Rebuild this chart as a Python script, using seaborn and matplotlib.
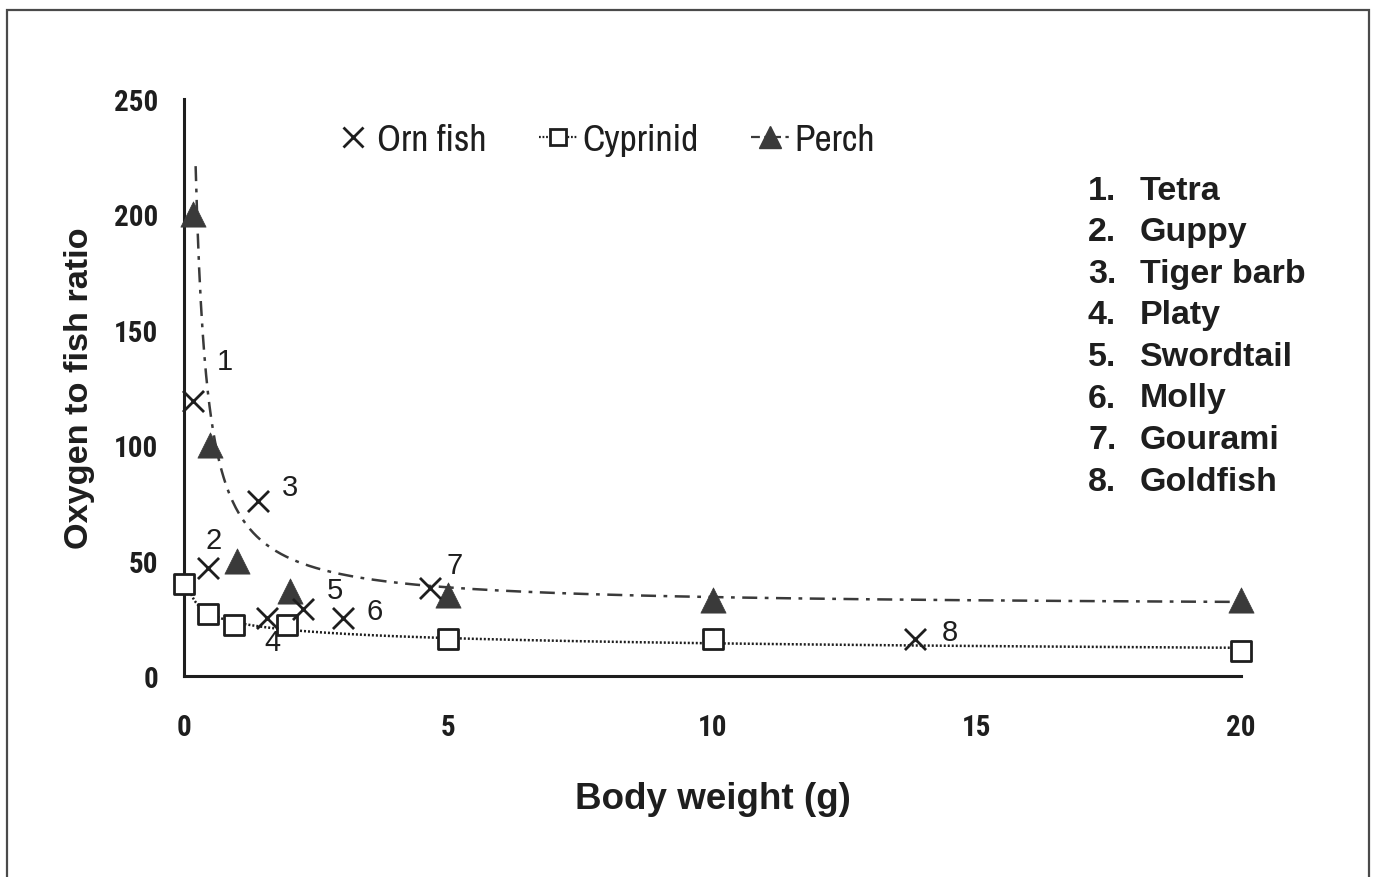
import numpy as np
import pandas as pd
import matplotlib
matplotlib.use("Agg")
import matplotlib.pyplot as plt
from matplotlib.lines import Line2D
from matplotlib.patches import Rectangle
from matplotlib import font_manager
import seaborn as sns

# ---------------- data ----------------
orn_x = [0.17, 0.45, 1.40, 1.57, 2.25, 3.0, 4.65, 13.83]
orn_y = [119, 47, 76, 25, 29, 25, 38, 16]
orn_labels = ["1", "2", "3", "4", "5", "6", "7", "8"]

cyp_x = [0.0, 0.45, 0.95, 1.95, 5.0, 10.0, 20.0]
cyp_y = [40, 27, 22, 22, 16, 16, 11]

perch_x = [0.17, 0.5, 1.0, 2.0, 5.0, 10.0, 20.0]
perch_y = [200, 100, 50, 37, 35, 33, 33]

# perch trend  y = a + b / x  (coefficients)
perch_trend_a = 30.0
perch_trend_b = 42.0

species = ["Tetra", "Guppy", "Tiger barb", "Platy", "Swordtail", "Molly",
           "Gourami", "Goldfish"]

x_ticks = [0, 5, 10, 15, 20]
y_ticks = [0, 50, 100, 150, 200, 250]

# ---------------- style ----------------
sns.set_theme(style="white")
plt.rcParams["font.family"] = ["Liberation Sans", "DejaVu Sans"]

_names = {f.name for f in font_manager.fontManager.ttflist}


def pick(cands, default="Liberation Sans"):
    for c in cands:
        if c in _names:
            return c
    return default


NARROW = pick(["Liberation Sans Narrow", "Arial Narrow", "Archivo Narrow",
               "PT Sans Narrow", "Roboto Condensed"])
TICKFONT = pick(["Liberation Sans Narrow", "Arial Narrow", "Roboto Condensed",
                 "Archivo Narrow"])

INK = "#1e1e1e"
TRI = "#3a3a3a"

fig = plt.figure(figsize=(13.75, 8.78), dpi=100)
L, R, T, B = 184, 1241, 100, 677
W, H = 1375, 878
ax = fig.add_axes([L / W, 1 - B / H, (R - L) / W, (B - T) / H])

# trend lines
xc = np.linspace(0.22, 20, 600)
perch_df = pd.DataFrame({"x": xc, "y": perch_trend_a + perch_trend_b / xc})
sns.lineplot(data=perch_df, x="x", y="y", ax=ax, color=TRI, lw=1.8,
             linestyle=(0, (6, 3, 1.5, 3)), zorder=2)

cx = np.array(cyp_x)
cy = np.array(cyp_y)
pos = cx > 0
slope, icpt = np.polyfit(np.log(cx[pos]), np.log(cy[pos]), 1)
xc2 = np.linspace(0.05, 20, 600)
cyp_df = pd.DataFrame({"x": xc2, "y": np.exp(icpt) * xc2 ** slope})
sns.lineplot(data=cyp_df, x="x", y="y", ax=ax, color=INK, lw=1.8,
             linestyle=(0, (0.8, 0.8)), zorder=2)

# markers
sns.scatterplot(x=cyp_x, y=cyp_y, ax=ax, marker="s", s=190, facecolor="white",
                edgecolor=INK, linewidth=2.0, zorder=4, clip_on=False)
sns.scatterplot(x=perch_x, y=perch_y, ax=ax, marker="^", s=330, color=TRI,
                edgecolor=TRI, linewidth=0.5, zorder=5, clip_on=False)
sns.scatterplot(x=orn_x, y=orn_y, ax=ax, marker="x", s=230, color=INK,
                linewidth=2.0, zorder=6, clip_on=False)

# point labels
offsets = [(23, 29), (4, 20), (23, 10), (4, -17), (23, 14), (23, 5), (18, 17), (25, 5)]
for xv, yv, lab, (dx, dy) in zip(orn_x, orn_y, orn_labels, offsets):
    ax.annotate(lab, (xv, yv), xytext=(dx, dy), textcoords="offset points",
                ha="center", va="center", fontsize=21, color=INK)

# axes
ax.set_xlim(0, 20)
ax.set_ylim(0, 250)
ax.set_xticks(x_ticks)
ax.set_yticks(y_ticks)
ax.set_xticks([2.5, 7.5, 12.5, 17.5], minor=True)
ax.set_yticks([25, 75, 125, 175, 225], minor=True)
for s in ["top", "right"]:
    ax.spines[s].set_visible(False)
for s in ["left", "bottom"]:
    ax.spines[s].set_color(INK)
    ax.spines[s].set_linewidth(2.2)
ax.tick_params(axis="both", which="major", direction="inout", length=13,
               width=1.5, color=INK, labelsize=21, labelcolor=INK)
ax.tick_params(axis="y", which="major", pad=12)
ax.tick_params(axis="x", which="major", pad=20)
ax.tick_params(axis="both", which="minor", direction="in", length=5,
               width=1.2, color="#666666")
for lab in ax.get_xticklabels() + ax.get_yticklabels():
    lab.set_family(TICKFONT)
    lab.set_fontweight("bold")

ax.set_xlabel("Body weight (g)", fontsize=26.5, fontweight="bold", color=INK,
              labelpad=29)
ax.set_ylabel("Oxygen to fish ratio", fontsize=24.7, fontweight="bold",
              color=INK, labelpad=14)

# legend
handles = [
    Line2D([], [], color=INK, marker="x", ms=14, mew=2.0, linestyle="none"),
    Line2D([], [], color=INK, lw=1.6, linestyle=(0, (0.8, 0.8)), marker="s",
           ms=12, mfc="white", mec=INK, mew=2.0),
    Line2D([], [], color=TRI, lw=1.6, linestyle=(0, (4, 2, 1.5, 2)), marker="^",
           ms=16, mfc=TRI, mec=TRI),
]
leg = ax.legend(handles, ["Orn fish", "Cyprinid", "Perch"], ncol=3,
                loc="center left", bbox_to_anchor=(0.142, 0.929), frameon=False,
                borderpad=0, borderaxespad=0,
                handlelength=1.0, handletextpad=0.15, columnspacing=1.4,
                prop=font_manager.FontProperties(family=NARROW, size=27))
for t in leg.get_texts():
    t.set_color(INK)

# species list
y0, step = 191, 41.6
for i, name in enumerate(species):
    yy = 1 - (y0 + i * step) / H
    fig.text(1088 / W, yy, f"{i + 1}.", fontsize=24.5, fontweight="bold",
             color=INK, va="center", ha="left")
    fig.text(1140 / W, yy, name, fontsize=24.5, fontweight="bold",
             color=INK, va="center", ha="left")

# outer frame
fig.add_artist(Rectangle((7 / W, -0.05), (1369 - 7) / W, 1.05 - 11 / H,
                         transform=fig.transFigure, fill=False,
                         edgecolor="#4a4a4a", lw=1.6))

fig.savefig("out.png", dpi=100, facecolor="white")
